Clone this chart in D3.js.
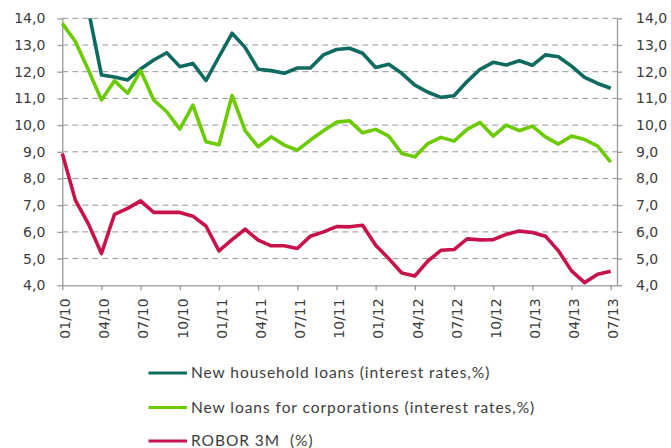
<!DOCTYPE html>
<html>
<head>
<meta charset="utf-8">
<script src="https://cdn.jsdelivr.net/npm/d3@7"></script>
<style>
  html, body { margin: 0; padding: 0; background: #ffffff; }
  svg { display: block; }
</style>
</head>
<body>
<div id="chart"></div>
<script>
// ---- Data ----
const months = [];
for (let yr = 10; yr <= 13; yr++) {
  for (let m = 1; m <= 12; m++) {
    if (yr === 13 && m > 7) break;
    months.push(String(m).padStart(2, "0") + "/" + yr);
  }
}
const tickLabels = ["01/10","04/10","07/10","10/10","01/11","04/11","07/11","10/11",
                    "01/12","04/12","07/12","10/12","01/13","04/13","07/13"];
const yTicks = [4,5,6,7,8,9,10,11,12,13,14];

const householdLoans = [14.6,14.5,14.3,11.88,11.8,11.69,12.1,12.44,12.71,12.19,12.31,11.67,
  12.56,13.44,12.91,12.09,12.04,11.94,12.14,12.14,12.63,12.83,12.88,12.69,12.16,12.28,
  11.94,11.5,11.23,11.04,11.1,11.63,12.09,12.35,12.25,12.41,12.24,12.63,12.56,12.21,
  11.79,11.56,11.38];
const corporateLoans = [13.81,13.13,12.06,10.94,11.66,11.19,12.04,10.94,10.5,9.85,10.75,9.38,
  9.26,11.11,9.79,9.19,9.56,9.25,9.06,9.44,9.79,10.11,10.16,9.71,9.84,9.59,8.94,8.81,
  9.31,9.54,9.4,9.84,10.1,9.59,10.0,9.79,9.96,9.56,9.29,9.59,9.46,9.21,8.61];
const robor3m = [8.94,7.19,6.3,5.19,6.66,6.88,7.16,6.73,6.73,6.73,6.59,6.22,5.29,5.71,6.1,
  5.69,5.48,5.48,5.38,5.84,6.0,6.2,6.19,6.25,5.5,5.0,4.46,4.35,4.91,5.31,5.34,5.74,5.7,
  5.71,5.91,6.03,5.98,5.84,5.29,4.54,4.1,4.41,4.53];

const seriesNames = ["New household loans (interest rates,%)",
                     "New loans for corporations (interest rates,%)",
                     "ROBOR 3M  (%)"];
const seriesColors = ["#0f6a60", "#6ccb00", "#c8124a"];
const seriesValues = [householdLoans, corporateLoans, robor3m];

// ---- Layout ----
const W = 671, H = 448;
const plotLeft = 62.3, plotRight = 617, lastX = 610.7, plotTop = 18.3, plotBottom = 285.3;
const axisColor = "#9a9a9a";
const textColor = "#3c3c3c";

const svg = d3.select("#chart").append("svg")
  .attr("width", W).attr("height", H);

const x = d3.scalePoint().domain(months).range([plotLeft, lastX]);
const y = d3.scaleLinear().domain([4, 14]).range([plotBottom, plotTop]);

// gridlines
svg.append("g")
  .selectAll("line")
  .data(yTicks.filter(d => d > 4))
  .join("line")
  .attr("x1", plotLeft).attr("x2", plotRight)
  .attr("y1", d => y(d)).attr("y2", d => y(d))
  .attr("stroke", "#959595")
  .attr("stroke-width", 1)
  .attr("stroke-dasharray", "6,4");

const fmt = d => d.toFixed(1).replace(".", ",");

function styleAxis(g) {
  g.select(".domain").attr("stroke", axisColor).attr("stroke-width", 1.3);
  g.selectAll(".tick line").attr("stroke", axisColor).attr("stroke-width", 1.3);
  g.selectAll(".tick text")
    .attr("fill", textColor)
    .style("font-family", "'DejaVu Sans', Verdana, sans-serif")
    .style("font-size", "14px");
}

// left axis
svg.append("g")
  .attr("transform", `translate(${plotLeft},0)`)
  .call(d3.axisLeft(y).tickValues(yTicks).tickFormat(fmt).tickSize(5).tickSizeOuter(0).tickPadding(12))
  .call(styleAxis);

// right axis
svg.append("g")
  .attr("transform", `translate(${plotRight},0)`)
  .call(d3.axisRight(y).tickValues(yTicks).tickFormat(fmt).tickSize(5).tickSizeOuter(0).tickPadding(14))
  .call(styleAxis);

// bottom axis
const xAxisG = svg.append("g")
  .attr("transform", `translate(0,${plotBottom})`)
  .call(d3.axisBottom(x).tickValues(tickLabels).tickSize(5).tickSizeOuter(0))
  .call(styleAxis);
xAxisG.select(".domain").attr("d", `M${plotLeft},0.5H${plotRight}`);
xAxisG.selectAll(".tick text")
  .attr("transform", "rotate(-90)")
  .attr("text-anchor", "end")
  .attr("x", -13)
  .attr("y", 0)
  .attr("dy", "0.52em");

// clip to top of plot
svg.append("clipPath").attr("id", "plotclip")
  .append("rect").attr("x", 0).attr("y", plotTop).attr("width", W).attr("height", H);

const line = d3.line()
  .x((d, i) => x(months[i]))
  .y(d => y(d));

svg.append("g").attr("clip-path", "url(#plotclip)")
  .selectAll("path")
  .data(seriesValues)
  .join("path")
  .attr("d", d => line(d))
  .attr("fill", "none")
  .attr("stroke", (d, i) => seriesColors[i])
  .attr("stroke-width", 3.6)
  .attr("stroke-linejoin", "round")
  .attr("stroke-linecap", "butt");

// legend
const legendY = [373, 407.5, 441];
const leg = svg.append("g");
seriesNames.forEach((name, i) => {
  leg.append("line")
    .attr("x1", 148.5).attr("x2", 187)
    .attr("y1", legendY[i]).attr("y2", legendY[i])
    .attr("stroke", seriesColors[i]).attr("stroke-width", 3.2);
  leg.append("text")
    .attr("x", 191).attr("y", legendY[i])
    .attr("dy", "0.35em")
    .attr("fill", textColor)
    .style("font-family", "Lato, 'Open Sans', sans-serif")
    .style("font-size", "15.5px")
    .style("letter-spacing", "0.95px")
    .style("white-space", "pre")
    .text(name);
});
</script>
</body>
</html>
